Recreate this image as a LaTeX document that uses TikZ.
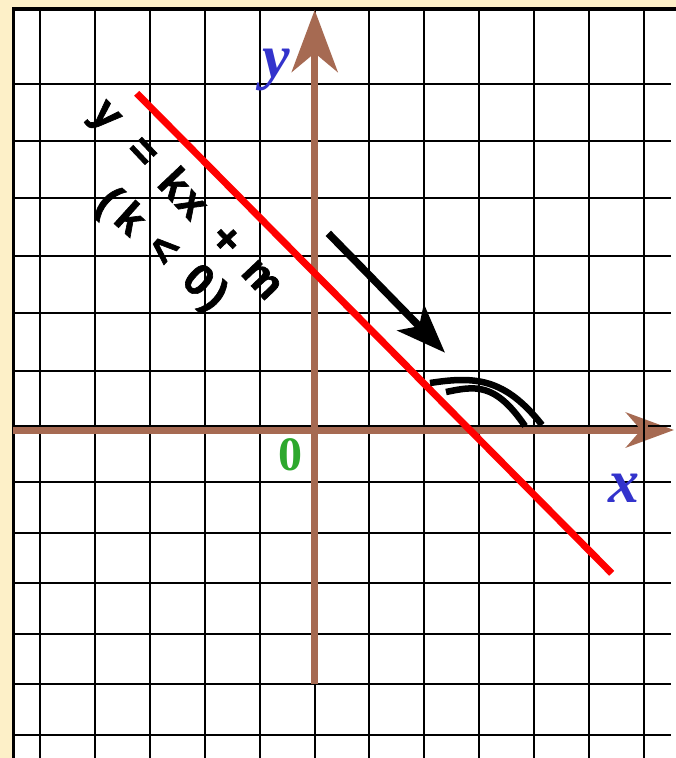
\documentclass[tikz,border=0pt]{standalone}
\usepackage{fontspec}
\setmainfont{Liberation Serif}
\newfontfamily\eqfont[BoldFeatures={FakeBold=1.5}]{Liberation Sans}
\usetikzlibrary{arrows.meta}
\definecolor{cream}{RGB}{253,240,200}
\definecolor{axisbrown}{RGB}{166,106,82}
\definecolor{lblue}{RGB}{51,51,204}
\definecolor{lgreen}{RGB}{45,168,45}
\tikzset{
  gridline/.style={black,line width=2pt},
  frameline/.style={black,line width=3.6pt},
  axisline/.style={axisbrown,line width=7pt},
  redline/.style={red,line width=7pt},
  mark curve/.style={black,line width=6.5pt},
  axislabel/.style={text=lblue,inner sep=0pt,font=\bfseries\itshape\fontsize{62}{62}\selectfont},
  eqtext/.style={inner sep=0pt,font=\eqfont\bfseries\fontsize{44}{44}\selectfont}
}
\begin{document}
\begin{tikzpicture}[x=1pt,y=-1pt]
\useasboundingbox (0,0) rectangle (676,758);
\fill[cream] (0,0) rectangle (676,758);
\fill[white] (13,9) rectangle (676,758);
% grid
\foreach \i in {0,...,11} \draw[gridline] ({40+54.9*\i},9) -- ({40+54.9*\i},758);
\foreach \y in {83.6,141,198.4,255.8,313.2,370.6,426,482,532.6,583.2,633.8,684.4,735}
  \draw[gridline] (13,\y) -- (671,\y);
% frame
\draw[frameline] (13.3,758) -- (13.3,9) -- (676,9);
% axes
\coordinate (xs) at (13,430);
\coordinate (xe) at (674,430);
\coordinate (ys) at (314.7,684.4);
\coordinate (ye) at (314.7,10);
\draw[axisline,-{Stealth[length=48pt,width=35pt,inset=15pt]}] (xs) -- (xe);
\draw[axisline,-{Stealth[length=62pt,width=46pt,inset=19pt]}] (ys) -- (ye);
\draw[gridline] (643.9,405) -- (643.9,455);
\draw[gridline] (648,426) -- (671,426);
% labels
\node[axislabel] (ylab) at (276,70) {y};
\node[axislabel] (xlab) at (624,488.5) {x};
\node[text=lgreen,inner sep=0pt,font=\bfseries\fontsize{48}{48}\selectfont] (zero) at (290,455) {0};
% red line
\coordinate (r1) at (136.7,93.3);
\coordinate (r2) at (611.7,573.3);
\draw[redline] (r1) -- (r2);
% black arrow
\coordinate (a1) at (328.3,233.3);
\coordinate (a2) at (445,352.7);
\draw[black,line width=7.5pt,-{Stealth[length=49pt,width=37pt,inset=12pt]}] (a1) -- (a2);
% angle mark
\coordinate (c1) at (430,383);
\coordinate (c2) at (542,425);
\coordinate (c3) at (446,392);
\coordinate (c4) at (525,426);
\draw[mark curve] (c1) .. controls (475,376) and (505,378) .. (c2);
\draw[mark curve] (c3) .. controls (475,386) and (495,382) .. (c4);
% equation
\node[eqtext,rotate=-46.6] (eq1) at (186,200.6) {y\hspace{0.6em}=\hspace{0.46em}k\hspace{0.05em}x\hspace{0.55em}+\hspace{0.48em}m};
\node[eqtext,rotate=-42] (eq2) at (160.9,250.5) {(\hspace{0.2em}k\hspace{0.44em}<\hspace{0.5em}0\hspace{0.1em})};
\end{tikzpicture}
\end{document}
